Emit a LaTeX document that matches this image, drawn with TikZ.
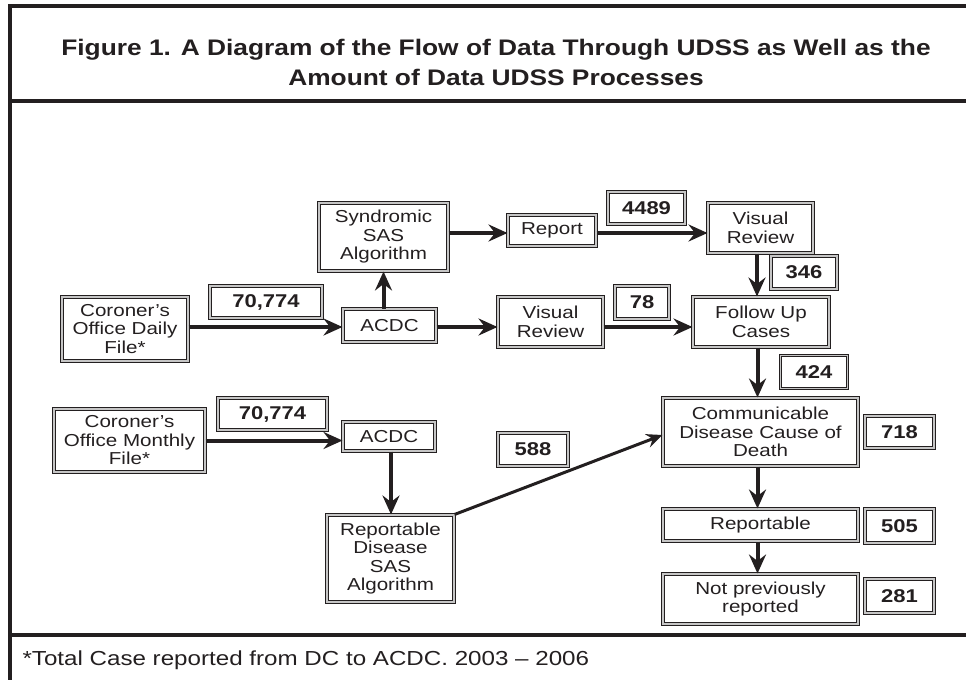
\documentclass[tikz,border=0pt]{standalone}
\usepackage{fontspec}
\setmainfont{Liberation Sans}[FakeStretch=1.19]
\newfontfamily\titlefont{Liberation Sans}[FakeStretch=1.17]
\usetikzlibrary{arrows.meta}
\definecolor{ink}{HTML}{231F20}
\tikzset{
  box/.style={draw=ink, line width=1pt, double=gray!45, double distance=1.6pt,
    inner sep=0pt, align=center, text=ink,
    font=\fontsize{17.3}{18.5}\selectfont},
  numbox/.style={box, font=\fontsize{18.5}{20}\selectfont\bfseries},
  flow/.style={draw=ink, line width=4pt, -{Stealth[length=19pt,width=17pt,inset=6.5pt]}},
  thinflow/.style={draw=ink, line width=3pt, -{Stealth[length=16pt,width=14pt,inset=5.5pt]}},
  frame/.style={draw=ink, line width=4pt},
}
\begin{document}
\begin{tikzpicture}[x=1pt,y=-1pt]
\useasboundingbox (0,0) rectangle (966,680);
% frame
\draw[frame] (966,5.5) -- (10,5.5) -- (10,680);
\draw[frame] (10,101) -- (966,101);
\draw[frame] (10,635) -- (966,635);
% title
\node[font=\titlefont\fontsize{22.5}{30}\selectfont\bfseries, text=ink, align=center] (title) at (496,62)
  {Figure 1. A Diagram of the Flow of Data Through UDSS as Well as the\\Amount of Data UDSS Processes};
% footnote
\node[font=\fontsize{20.3}{22}\selectfont, text=ink, anchor=base west] (foot) at (19,665)
  {*Total Case reported from DC to ACDC. 2003 -- 2006};
% boxes
\node[box, minimum width=126pt, minimum height=64pt] (daily) at (125,329) {Coroner's\\Office Daily\\File*};
\node[numbox, minimum width=112pt, minimum height=32pt] (n70774a) at (266,302) {70,774};
\node[box, minimum width=93pt, minimum height=33pt] (acdc1) at (389.5,325.5) {ACDC};
\node[box, minimum width=129pt, minimum height=68pt] (synd) at (383.5,237) {Syndromic\\SAS\\Algorithm};
\node[box, minimum width=88pt, minimum height=31pt] (report) at (552,230.5) {Report};
\node[numbox, minimum width=77pt, minimum height=32pt] (n4489) at (646.5,208) {4489};
\node[box, minimum width=105pt, minimum height=50pt] (vr1) at (760.5,228) {Visual\\Review};
\node[numbox, minimum width=66pt, minimum height=33pt] (n346) at (804,272.5) {346};
\node[box, minimum width=136pt, minimum height=50pt] (follow) at (761,322) {Follow Up\\Cases};
\node[box, minimum width=105pt, minimum height=50pt] (vr2) at (550.5,322) {Visual\\Review};
\node[numbox, minimum width=54pt, minimum height=33pt] (n78) at (642,302.5) {78};
\node[numbox, minimum width=67pt, minimum height=33pt] (n424) at (814,372) {424};
\node[box, minimum width=195pt, minimum height=68pt] (comm) at (760.5,432) {Communicable\\Disease Cause of\\Death};
\node[numbox, minimum width=69pt, minimum height=32pt] (n718) at (899.5,432) {718};
\node[box, minimum width=195pt, minimum height=32pt] (rep) at (760.5,525) {Reportable};
\node[numbox, minimum width=69pt, minimum height=34pt] (n505) at (899.5,526) {505};
\node[box, minimum width=195pt, minimum height=50pt] (notprev) at (760.5,599) {Not previously\\reported};
\node[numbox, minimum width=69pt, minimum height=34pt] (n281) at (899.5,596) {281};
\node[box, minimum width=151pt, minimum height=63pt] (monthly) at (129.5,440.5) {Coroner's\\Office Monthly\\File*};
\node[numbox, minimum width=109pt, minimum height=32pt] (n70774b) at (272.5,414) {70,774};
\node[box, minimum width=92pt, minimum height=29pt] (acdc2) at (389,436.5) {ACDC};
\node[box, minimum width=127pt, minimum height=87pt] (rds) at (390.5,558.5) {Reportable\\Disease\\SAS\\Algorithm};
\node[numbox, minimum width=70pt, minimum height=33pt] (n588) at (533,449.5) {588};
% connectors (yshift > 0 moves up on the page)
\draw[flow] ([yshift=2pt]daily.east) -- ([yshift=2pt]daily.east -| acdc1.west);
\draw[flow] ([xshift=-6pt]acdc1.north) -- ([xshift=-6pt]acdc1.north |- synd.south);
\draw[flow] ([yshift=4pt]synd.east) -- ([yshift=4pt]synd.east -| report.west);
\draw[flow] ([yshift=-2.5pt]report.east) -- ([yshift=-2.5pt]report.east -| vr1.west);
\draw[flow] ([xshift=-3.5pt]vr1.south) -- ([xshift=-3.5pt]vr1.south |- follow.north);
\draw[flow] ([yshift=-1.5pt]acdc1.east) -- ([yshift=-1.5pt]acdc1.east -| vr2.west);
\draw[flow] ([yshift=-5pt]vr2.east) -- ([yshift=-5pt]vr2.east -| follow.west);
\draw[flow] ([xshift=-3.5pt]follow.south) -- ([xshift=-3.5pt]follow.south |- comm.north);
\draw[flow] ([xshift=-3pt]comm.south) -- ([xshift=-3pt]comm.south |- rep.north);
\draw[flow] ([xshift=-3pt]rep.south) -- ([xshift=-3pt]rep.south |- notprev.north);
\draw[flow] (monthly.east) -- (monthly.east -| acdc2.west);
\draw[flow] ([xshift=2pt]acdc2.south) -- ([xshift=2pt]acdc2.south |- rds.north);
\draw[thinflow] (rds.north east) -- ([yshift=-3pt]comm.west);
\end{tikzpicture}
\end{document}
